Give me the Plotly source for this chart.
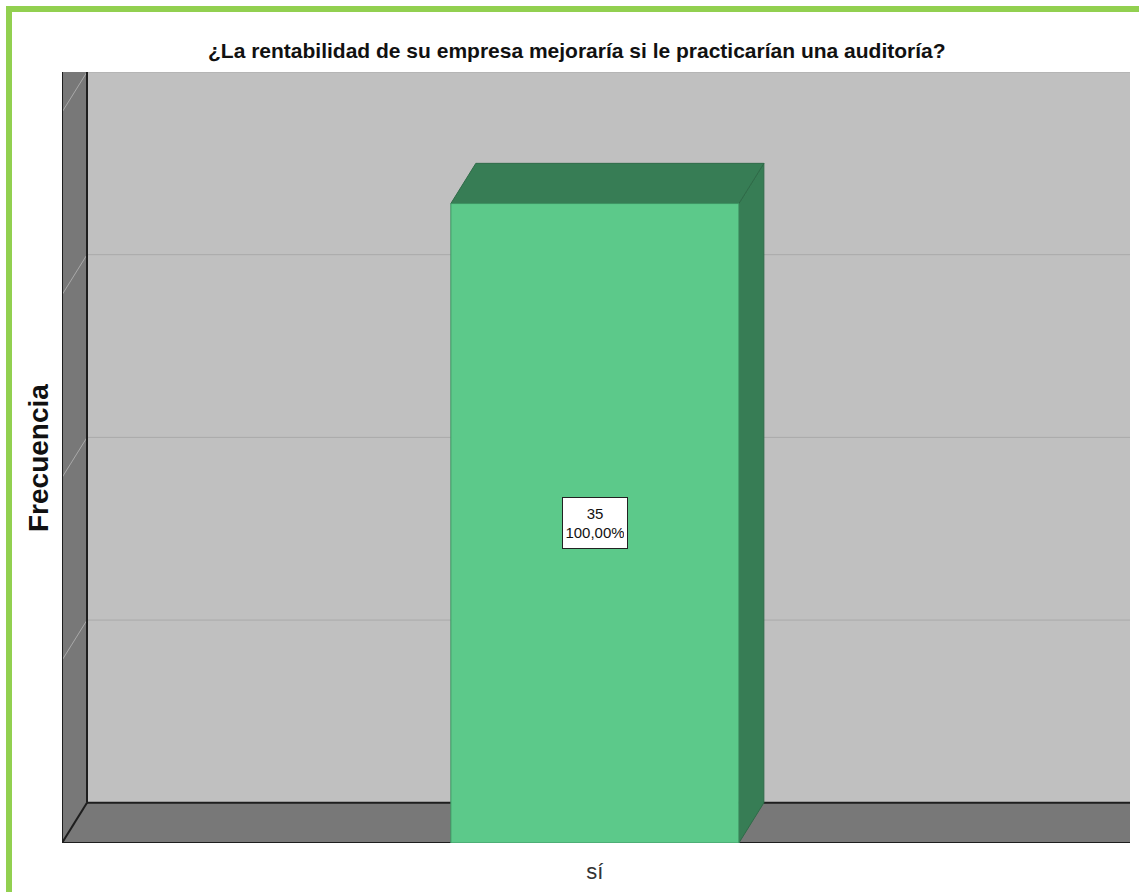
import plotly.graph_objects as go

# Survey answer counts
categories = ["sí"]
frequencies = [35]
total = sum(frequencies)
percentages = [f / total * 100 for f in frequencies]

# Value axis (hidden ticks) and gridline values
y_max = 40
grid_values = [10, 20, 30, 40]

W, H = 1139, 892

# 3D look: depth offset of the back plane, in axis units
DEPTH_X = 0.0434
DEPTH_Y = 2.2
BAR_W = 0.5
X_LEFT, X_RIGHT = -0.925, 0.929
Y_TOP = y_max + DEPTH_Y

SANS = "Liberation Sans, Arial, sans-serif"

WALL = "#787878"
BACK = "#C0C0C0"
EDGE = "#1E1E1E"
GRID = "#A9A9A9"
FRONT_GREEN = "#5CC98A"
DARK_GREEN = "#377D55"


def poly(points):
    return "M " + " L ".join(f"{x},{y}" for x, y in points) + " Z"


shapes = []
# back wall
shapes.append(dict(type="rect", xref="x", yref="y", layer="below",
                   x0=X_LEFT + DEPTH_X, x1=X_RIGHT, y0=DEPTH_Y, y1=Y_TOP,
                   fillcolor=BACK, line=dict(width=0)))
# left wall
shapes.append(dict(type="path", xref="x", yref="y", layer="below",
                   path=poly([(X_LEFT, 0), (X_LEFT + DEPTH_X, DEPTH_Y),
                              (X_LEFT + DEPTH_X, Y_TOP), (X_LEFT, Y_TOP)]),
                   fillcolor=WALL, line=dict(width=0)))
# floor
shapes.append(dict(type="path", xref="x", yref="y", layer="below",
                   path=poly([(X_LEFT, 0), (X_LEFT + DEPTH_X, DEPTH_Y),
                              (X_RIGHT, DEPTH_Y), (X_RIGHT, 0)]),
                   fillcolor=WALL, line=dict(width=0)))
# gridlines on back and left walls
for v in grid_values:
    shapes.append(dict(type="line", xref="x", yref="y", layer="below",
                       x0=X_LEFT + DEPTH_X, x1=X_RIGHT, y0=DEPTH_Y + v, y1=DEPTH_Y + v,
                       line=dict(color=GRID, width=1)))
    shapes.append(dict(type="line", xref="x", yref="y", layer="below",
                       x0=X_LEFT, x1=X_LEFT + DEPTH_X, y0=v, y1=DEPTH_Y + v,
                       line=dict(color=GRID, width=1)))
# dark wall edges
edge_lines = [
    ((X_LEFT, 0), (X_LEFT, Y_TOP)),
    ((X_LEFT + DEPTH_X, DEPTH_Y), (X_LEFT + DEPTH_X, Y_TOP)),
    ((X_LEFT, 0), (X_LEFT + DEPTH_X, DEPTH_Y)),
    ((X_LEFT + DEPTH_X, DEPTH_Y), (X_RIGHT, DEPTH_Y)),
    ((X_LEFT, 0), (X_RIGHT, 0)),
]
for (a, b) in edge_lines:
    shapes.append(dict(type="line", xref="x", yref="y", layer="below",
                       x0=a[0], y0=a[1], x1=b[0], y1=b[1],
                       line=dict(color=EDGE, width=2)))

# top and side faces of each bar
for i, v in enumerate(frequencies):
    xl, xr = i - BAR_W / 2, i + BAR_W / 2
    shapes.append(dict(type="path", xref="x", yref="y", layer="below",
                       path=poly([(xr, 0), (xr + DEPTH_X, DEPTH_Y),
                                  (xr + DEPTH_X, v + DEPTH_Y), (xr, v)]),
                       fillcolor=DARK_GREEN, line=dict(color="#2F6B48", width=1)))
    shapes.append(dict(type="path", xref="x", yref="y", layer="below",
                       path=poly([(xl, v), (xl + DEPTH_X, v + DEPTH_Y),
                                  (xr + DEPTH_X, v + DEPTH_Y), (xr, v)]),
                       fillcolor=DARK_GREEN, line=dict(color="#2F6B48", width=1)))

# green frame around the chart
shapes.append(dict(type="line", xref="paper", yref="paper",
                   x0=9 / W, x1=1.02, y0=1 - 9 / H, y1=1 - 9 / H,
                   line=dict(color="#92D050", width=6)))
shapes.append(dict(type="line", xref="paper", yref="paper",
                   x0=9 / W, x1=9 / W, y0=1 - 6 / H, y1=-0.02,
                   line=dict(color="#92D050", width=6)))

fig = go.Figure()
fig.add_trace(go.Bar(
    x=list(range(len(categories))), y=frequencies, width=BAR_W,
    marker=dict(color=FRONT_GREEN, line=dict(color="#3E9463", width=1)),
    hoverinfo="skip",
))

annotations = []
for i, (v, p) in enumerate(zip(frequencies, percentages)):
    pct = f"{p:.2f}".replace(".", ",") + "%"
    annotations.append(dict(
        x=i, y=v / 2, xref="x", yref="y", text=f"{v}<br>{pct}", showarrow=False,
        font=dict(family=SANS, size=15, color="#111111"),
        bgcolor="white", bordercolor="#222222", borderwidth=1, borderpad=3,
        width=58, height=44,
    ))

annotations.append(dict(
    x=577 / W, y=1 - 50 / H, xref="paper", yref="paper",
    text="<b>¿La rentabilidad de su empresa mejoraría si le practicarían una auditoría?</b>",
    showarrow=False, font=dict(family=SANS, size=21, color="#111111"),
    xanchor="center", yanchor="middle",
))
annotations.append(dict(
    x=38 / W, y=1 - 458 / H, xref="paper", yref="paper",
    text="<b>Frecuencia</b>", textangle=-90, showarrow=False,
    font=dict(family=SANS, size=28, color="#111111"),
    xanchor="center", yanchor="middle",
))

fig.update_layout(
    width=W, height=H,
    margin=dict(l=0, r=0, t=0, b=0),
    paper_bgcolor="white", plot_bgcolor="white",
    showlegend=False,
    shapes=shapes, annotations=annotations,
    xaxis=dict(domain=[62 / W, 1130 / W], range=[X_LEFT, X_RIGHT],
               tickvals=list(range(len(categories))), ticktext=categories,
               tickfont=dict(family=SANS, size=22, color="#333333"),
               ticks="", ticklabelstandoff=13,
               showgrid=False, zeroline=False, showline=False, fixedrange=True),
    yaxis=dict(domain=[1 - 843 / H, 1 - 72 / H], range=[0, Y_TOP],
               showticklabels=False, ticks="",
               showgrid=False, zeroline=False, showline=False, fixedrange=True),
)

fig.write_html("out.html")
